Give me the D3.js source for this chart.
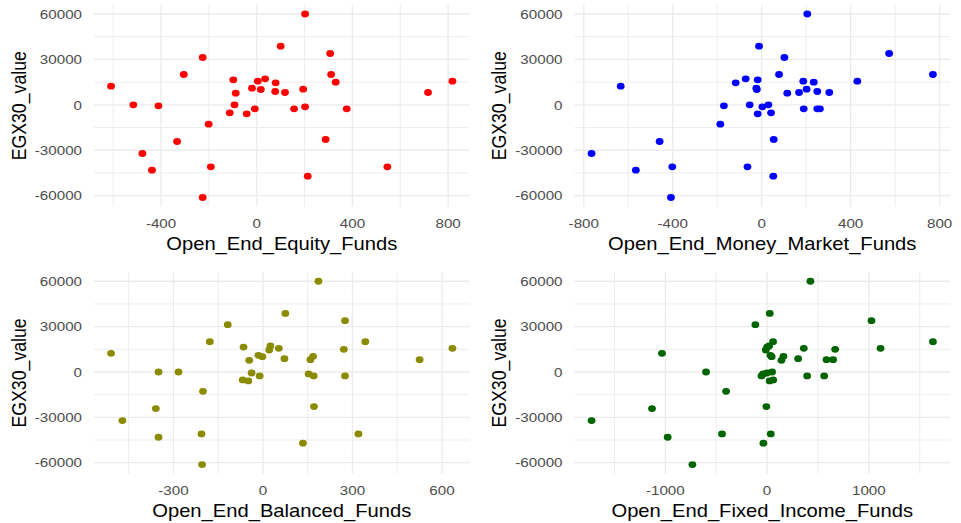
<!DOCTYPE html>
<html>
<head>
<meta charset="utf-8">
<script src="https://d3js.org/d3.v7.min.js"></script>
<style>
  body { margin: 0; background: #fff; }
  svg { display: block; font-family: "Liberation Sans", Arial, sans-serif; }
  .grid-major { stroke: #ebebeb; stroke-width: 1.3; }
  .grid-minor { stroke: #ebebeb; stroke-width: 0.9; }
  .tick-label { fill: #4d4d4d; font-size: 13.3px; }
  .axis-title { fill: #000; font-size: 17.7px; }
</style>
</head>
<body>
<svg width="961" height="523"></svg>
<script>
// EGX30 value, shared by all four panels (one entry per month)
var egx30 = [60000, 38750, 33900, 31270, 20040, 20040, 17180, 16500, 15630, 15630,
  14970, 14530, 12330, 11010, 10350, 10130, 8800, 8150, 8150, 7700,
  0, 0, -660, -1320, -2640, -2640, -2640, -5280, -5950, -12770,
  -22900, -24220, -32150, -40960, -40960, -43160, -47120, -61220];

var equity = [202, 100, 307, -226, -305, 311, 35, -98, 4, 818,
  330, 79, -609, -20, 194, 17, 77, 118, 716, -88,
  -516, -93, -411, 202, -8, 156, 376, -113, -42, -201,
  288, -333, -478, -192, 546, -438, 213, -226];

var moneyMarket = [205, -12, 573, 102, 78, 770, -72, -18, 187, 430,
  234, -117, -634, -24, 202, -22, 250, 168, 304, 115,
  -54, 30, -170, 3, 189, 250, 262, 42, -18, -186,
  54, -459, -765, -402, -64, -566, 52, -408];

var balanced = [186, 75, 275, -118, -178, 343, 25, -65, 53, 635,
  271, 21, -509, -15, 168, -2, 72, 159, 525, -46,
  -350, -283, -38, 153, -11, 170, 275, -68, -49, -201,
  171, -359, -471, -206, 320, -350, 134, -204];

var fixedIncome = [426, 26, 1026, -115, 59, 1630, 20, 0, 361, 1115,
  669, -13, -1033, 33, 161, 45, 305, 584, 649, 141,
  -600, 49, 0, -39, -55, 394, 561, 60, 25, -403,
  -7, -1131, -1725, -443, 36, -977, -36, -734];

var yTicks = [-60000, -30000, 0, 30000, 60000];

var panels = [
  {name: "Open_End_Equity_Funds", xs: equity, color: "#ff0000", ticks: [-400, 0, 400, 800], step: 400, col: 0, row: 0},
  {name: "Open_End_Money_Market_Funds", xs: moneyMarket, color: "#0000ff", ticks: [-800, -400, 0, 400, 800], step: 400, col: 1, row: 0},
  {name: "Open_End_Balanced_Funds", xs: balanced, color: "#8b8b00", ticks: [-300, 0, 300, 600], step: 300, col: 0, row: 1},
  {name: "Open_End_Fixed_Income_Funds", xs: fixedIncome, color: "#006400", ticks: [-1000, 0, 1000], step: 1000, col: 1, row: 1}
];

var svg = d3.select("svg");
var sx = 1.14; // the picture is a little wider than tall, text and dots stretch with it
var colX = [0, 480.5];
var rowY = [[4.8, 206.7], [272.1, 473.7]];

function expand(ext) {
  var pad = (ext[1] - ext[0]) * 0.05;
  return [ext[0] - pad, ext[1] + pad];
}

panels.forEach(function (p) {
  var left = colX[p.col] + 94, right = colX[p.col] + 469.5;
  var top = rowY[p.row][0], bottom = rowY[p.row][1];

  var x = d3.scaleLinear().domain(expand(d3.extent(p.xs))).range([left, right]);
  var y = d3.scaleLinear().domain(expand(d3.extent(egx30))).range([bottom, top]);

  var g = svg.append("g");

  // minor grid: halfway between majors
  var xd = x.domain(), yd = y.domain();
  var xMinor = d3.range(Math.floor(xd[0] / p.step) * p.step + p.step / 2, xd[1], p.step)
    .filter(function (v) { return v > xd[0]; });
  var yMinor = d3.range(-75000, 75001, 30000).filter(function (v) { return v > yd[0] && v < yd[1]; });

  g.selectAll(".xminor").data(xMinor).enter().append("line")
    .attr("class", "grid-minor")
    .attr("x1", function (d) { return x(d); }).attr("x2", function (d) { return x(d); })
    .attr("y1", top).attr("y2", bottom);
  g.selectAll(".yminor").data(yMinor).enter().append("line")
    .attr("class", "grid-minor")
    .attr("y1", function (d) { return y(d); }).attr("y2", function (d) { return y(d); })
    .attr("x1", left).attr("x2", right);

  g.selectAll(".xmajor").data(p.ticks).enter().append("line")
    .attr("class", "grid-major")
    .attr("x1", function (d) { return x(d); }).attr("x2", function (d) { return x(d); })
    .attr("y1", top).attr("y2", bottom);
  g.selectAll(".ymajor").data(yTicks).enter().append("line")
    .attr("class", "grid-major")
    .attr("y1", function (d) { return y(d); }).attr("y2", function (d) { return y(d); })
    .attr("x1", left).attr("x2", right);

  // tick labels
  g.selectAll(".xlab").data(p.ticks).enter().append("text")
    .attr("class", "tick-label")
    .attr("text-anchor", "middle")
    .attr("transform", function (d) { return "translate(" + x(d) + "," + (bottom + 20.8) + ") scale(" + sx + ",1)"; })
    .text(function (d) { return d; });
  g.selectAll(".ylab").data(yTicks).enter().append("text")
    .attr("class", "tick-label")
    .attr("text-anchor", "end")
    .attr("transform", function (d) { return "translate(" + (left - 12) + "," + (y(d) + 4.8) + ") scale(" + sx + ",1)"; })
    .text(function (d) { return d; });

  // axis titles
  g.append("text")
    .attr("class", "axis-title")
    .attr("text-anchor", "middle")
    .attr("transform", "translate(" + ((left + right) / 2) + "," + (bottom + 43.3) + ") scale(" + sx + ",1)")
    .text(p.name);
  g.append("text")
    .attr("class", "axis-title")
    .attr("text-anchor", "middle")
    .attr("transform", "translate(" + (colX[p.col] + 25.5) + "," + ((top + bottom) / 2) + ") scale(" + sx + ",1) rotate(-90)")
    .text("EGX30_value");

  // points
  g.selectAll(".pt").data(p.xs).enter().append("ellipse")
    .attr("cx", function (d) { return x(d); })
    .attr("cy", function (d, i) { return y(egx30[i]); })
    .attr("rx", 3.9).attr("ry", 3.4)
    .attr("fill", p.color);
});
</script>
</body>
</html>
